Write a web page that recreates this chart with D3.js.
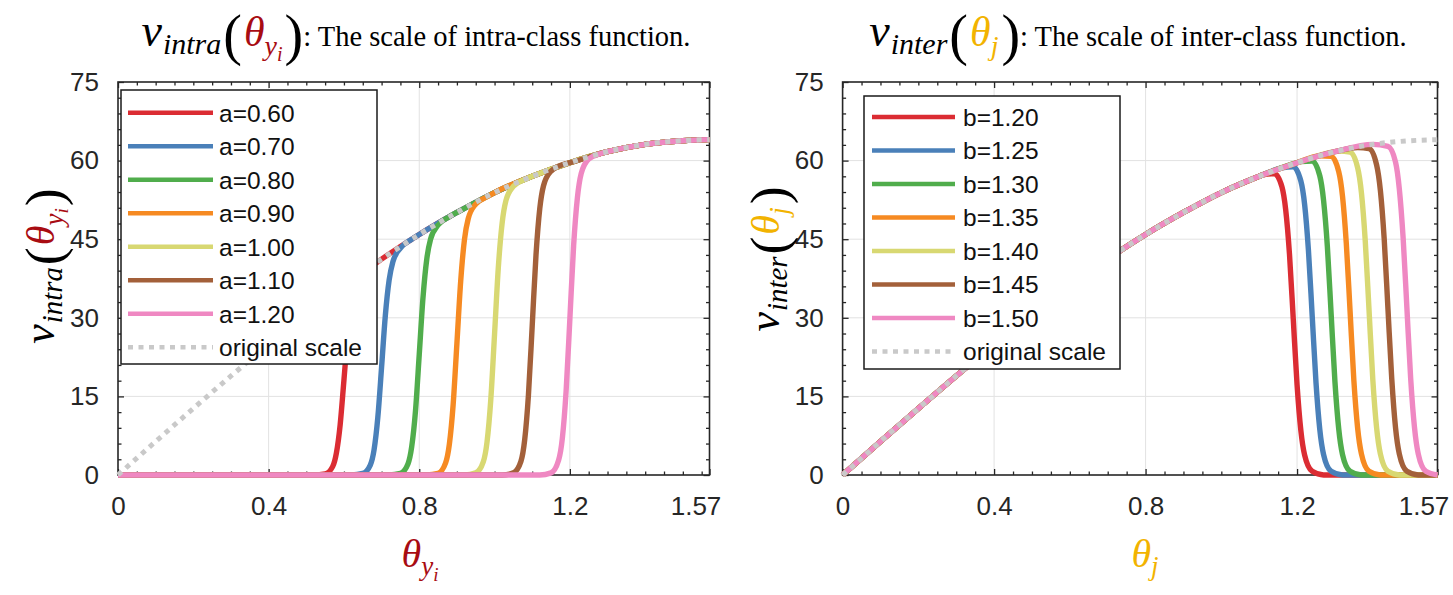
<!DOCTYPE html>
<html><head><meta charset="utf-8">
<script src="https://cdn.jsdelivr.net/npm/d3@7"></script>
<style>body{margin:0;background:#fff}svg{display:block}</style>
</head><body>
<svg id="chart" width="1453" height="595"></svg>
<script>
// ---------------- DATA ----------------
const xTickValues = [0, 0.4, 0.8, 1.2, 1.5708];
const xTickLabels = ["0", "0.4", "0.8", "1.2", "1.57"];
const yTickValues = [0, 15, 30, 45, 60, 75];
const intraLabels = ["a=0.60", "a=0.70", "a=0.80", "a=0.90", "a=1.00", "a=1.10", "a=1.20"];
const interLabels = ["b=1.20", "b=1.25", "b=1.30", "b=1.35", "b=1.40", "b=1.45", "b=1.50"];
const originalLabel = "original scale";

const originalTheta = [0, 0.1, 0.2, 0.3, 0.4, 0.5, 0.6, 0.7, 0.8, 0.9, 1.0, 1.1, 1.2, 1.3, 1.4, 1.5, 1.5708];
const originalScale = [0, 6.4, 12.7, 18.9, 24.9, 30.7, 36.1, 41.2, 45.9, 50.1, 53.9, 57.0, 59.6, 61.7, 63.1, 63.8, 64.0];

// intra-class scale curves [theta, value]
const intraA060 = [[0,0],[0.52,0],[0.55,0.2],[0.57,1.6],[0.58,4.2],[0.59,9.6],[0.60,18.1],[0.61,26.8],[0.62,32.8],[0.63,35.9],[0.65,38.5],[0.68,40.2],[0.7,41.2],[0.8,45.9],[0.9,50.1],[1.0,53.9],[1.1,57.0],[1.2,59.6],[1.3,61.7],[1.4,63.1],[1.5,63.8],[1.5708,64.0]];
const intraA070 = [[0,0],[0.62,0],[0.65,0.3],[0.67,1.9],[0.68,4.8],[0.69,11.0],[0.70,20.6],[0.71,30.5],[0.72,37.2],[0.73,40.7],[0.75,43.3],[0.78,45.0],[0.8,45.9],[0.9,50.1],[1.0,53.9],[1.1,57.0],[1.2,59.6],[1.3,61.7],[1.4,63.1],[1.5,63.8],[1.5708,64.0]];
const intraA080 = [[0,0],[0.72,0],[0.75,0.3],[0.77,2.1],[0.78,5.4],[0.79,12.2],[0.80,23.0],[0.81,33.9],[0.82,41.2],[0.83,45.0],[0.85,47.7],[0.88,49.3],[0.9,50.1],[1.0,53.9],[1.1,57.0],[1.2,59.6],[1.3,61.7],[1.4,63.1],[1.5,63.8],[1.5708,64.0]];
const intraA090 = [[0,0],[0.82,0],[0.85,0.3],[0.87,2.3],[0.88,5.9],[0.89,13.4],[0.90,25.1],[0.91,36.9],[0.92,44.9],[0.93,48.9],[0.95,51.7],[0.98,53.1],[1.0,53.9],[1.1,57.0],[1.2,59.6],[1.3,61.7],[1.4,63.1],[1.5,63.8],[1.5708,64.0]];
const intraA100 = [[0,0],[0.92,0],[0.95,0.4],[0.97,2.5],[0.98,6.3],[0.99,14.4],[1.00,26.9],[1.01,39.6],[1.02,48.0],[1.03,52.3],[1.05,55.1],[1.08,56.4],[1.1,57.0],[1.2,59.6],[1.3,61.7],[1.4,63.1],[1.5,63.8],[1.5708,64.0]];
const intraA110 = [[0,0],[1.02,0],[1.05,0.4],[1.07,2.6],[1.08,6.7],[1.09,15.3],[1.10,28.5],[1.11,41.9],[1.12,50.8],[1.13,55.2],[1.15,58.0],[1.18,59.2],[1.2,59.6],[1.3,61.7],[1.4,63.1],[1.5,63.8],[1.5708,64.0]];
const intraA120 = [[0,0],[1.12,0],[1.15,0.4],[1.17,2.8],[1.18,7.0],[1.19,16.0],[1.20,29.8],[1.21,43.8],[1.22,52.9],[1.23,57.5],[1.25,60.3],[1.28,61.3],[1.3,61.7],[1.4,63.1],[1.5,63.8],[1.5708,64.0]];

// inter-class scale curves [theta, value]
const interB120 = [[0,0],[0.1,6.4],[0.2,12.7],[0.3,18.9],[0.4,24.9],[0.5,30.7],[0.6,36.1],[0.7,41.2],[0.8,45.9],[0.9,50.1],[1.0,53.9],[1.1,57.0],[1.11,57.3],[1.14,57.5],[1.16,55.0],[1.17,50.6],[1.18,42.1],[1.19,29.7],[1.20,17.2],[1.21,8.5],[1.22,3.8],[1.24,0.7],[1.27,0],[1.5708,0]];
const interB125 = [[0,0],[0.1,6.4],[0.2,12.7],[0.3,18.9],[0.4,24.9],[0.5,30.7],[0.6,36.1],[0.7,41.2],[0.8,45.9],[0.9,50.1],[1.0,53.9],[1.1,57.0],[1.16,58.6],[1.19,58.8],[1.21,56.1],[1.22,51.6],[1.23,42.9],[1.24,30.3],[1.25,17.6],[1.26,8.7],[1.27,3.9],[1.29,0.7],[1.32,0],[1.5708,0]];
const interB130 = [[0,0],[0.1,6.4],[0.2,12.7],[0.3,18.9],[0.4,24.9],[0.5,30.7],[0.6,36.1],[0.7,41.2],[0.8,45.9],[0.9,50.1],[1.0,53.9],[1.1,57.0],[1.2,59.6],[1.21,59.8],[1.24,59.9],[1.26,57.1],[1.27,52.4],[1.28,43.6],[1.29,30.7],[1.30,17.8],[1.31,8.8],[1.32,3.9],[1.34,0.7],[1.37,0],[1.5708,0]];
const interB135 = [[0,0],[0.1,6.4],[0.2,12.7],[0.3,18.9],[0.4,24.9],[0.5,30.7],[0.6,36.1],[0.7,41.2],[0.8,45.9],[0.9,50.1],[1.0,53.9],[1.1,57.0],[1.2,59.6],[1.26,60.9],[1.29,60.8],[1.31,57.9],[1.32,53.2],[1.33,44.2],[1.34,31.2],[1.35,18.0],[1.36,8.9],[1.37,4.0],[1.39,0.7],[1.42,0],[1.5708,0]];
const interB140 = [[0,0],[0.1,6.4],[0.2,12.7],[0.3,18.9],[0.4,24.9],[0.5,30.7],[0.6,36.1],[0.7,41.2],[0.8,45.9],[0.9,50.1],[1.0,53.9],[1.1,57.0],[1.2,59.6],[1.3,61.7],[1.31,61.8],[1.34,61.6],[1.36,58.6],[1.37,53.8],[1.38,44.7],[1.39,31.5],[1.40,18.2],[1.41,9.0],[1.42,4.0],[1.44,0.7],[1.47,0],[1.5708,0]];
const interB145 = [[0,0],[0.1,6.4],[0.2,12.7],[0.3,18.9],[0.4,24.9],[0.5,30.7],[0.6,36.1],[0.7,41.2],[0.8,45.9],[0.9,50.1],[1.0,53.9],[1.1,57.0],[1.2,59.6],[1.3,61.7],[1.36,62.5],[1.39,62.3],[1.41,59.2],[1.42,54.3],[1.43,45.1],[1.44,31.7],[1.45,18.4],[1.46,9.0],[1.47,4.0],[1.49,0.7],[1.52,0],[1.5708,0]];
const interB150 = [[0,0],[0.1,6.4],[0.2,12.7],[0.3,18.9],[0.4,24.9],[0.5,30.7],[0.6,36.1],[0.7,41.2],[0.8,45.9],[0.9,50.1],[1.0,53.9],[1.1,57.0],[1.2,59.6],[1.3,61.7],[1.4,63.1],[1.44,62.7],[1.46,59.7],[1.47,54.6],[1.48,45.3],[1.49,31.9],[1.50,18.4],[1.51,9.1],[1.52,4.0],[1.54,0.7],[1.5708,0]];

const intraSeries = [intraA060, intraA070, intraA080, intraA090, intraA100, intraA110, intraA120];
const interSeries = [interB120, interB125, interB130, interB135, interB140, interB145, interB150];

// ---------------- STYLE ----------------
const seriesColors = ["#db2c33", "#4a80b9", "#50ad4c", "#f68a22", "#d8d872", "#a3603a", "#ef88c2"];
const origColor = "#c9c9c9";
const thetaRed = "#a80c12";
const thetaGold = "#f2b300";
const sans = "'Liberation Sans', Arial, sans-serif";
const mathFam = "'Liberation Serif', 'Times New Roman', serif";
const textSerif = "'Liberation Serif', 'Times New Roman', serif";

const svg = d3.select("#chart");
const yTop = 82, yBot = 475;

function mathText(sel, parts) {
  let prev = 0;
  parts.forEach(p => {
    sel.append("tspan")
      .attr("dy", p.base - prev)
      .attr("dx", p.dx || 0)
      .attr("font-size", p.size)
      .attr("font-style", p.it ? "italic" : "normal")
      .attr("font-family", p.fam || mathFam)
      .attr("fill", p.fill || "#000")
      .text(p.t);
    prev = p.base;
  });
}

function drawPanel(cfg) {
  const x = d3.scaleLinear().domain([0, 1.5708]).range([cfg.x0, cfg.x1]);
  const y = d3.scaleLinear().domain([0, 75]).range([yBot, yTop]);
  const g = svg.append("g");

  // grid
  g.append("g").selectAll("line").data(xTickValues.slice(1, -1)).join("line")
    .attr("x1", d => x(d)).attr("x2", d => x(d)).attr("y1", yTop).attr("y2", yBot)
    .attr("stroke", "#e2e2e2").attr("stroke-width", 1);
  g.append("g").selectAll("line").data(yTickValues.slice(1, -1)).join("line")
    .attr("y1", d => y(d)).attr("y2", d => y(d)).attr("x1", cfg.x0).attr("x2", cfg.x1)
    .attr("stroke", "#e2e2e2").attr("stroke-width", 1);

  // axes (ticks inward)
  const minorX = d3.range(0.05, 1.5708, 0.05).filter(v => Math.abs(v / 0.4 - Math.round(v / 0.4)) > 1e-6);
  const minorY = d3.range(3, 75, 3).filter(v => v % 15 !== 0);
  const fmtX = (d, i) => xTickLabels[i];
  const bottom = g.append("g").attr("transform", `translate(0,${yBot})`)
    .call(d3.axisBottom(x).tickValues(xTickValues).tickFormat(fmtX).tickSizeInner(-6).tickSizeOuter(0).tickPadding(22));
  g.append("g").attr("transform", `translate(0,${yBot})`)
    .call(d3.axisBottom(x).tickValues(minorX).tickFormat("").tickSizeInner(-3.5).tickSizeOuter(0));
  g.append("g").attr("transform", `translate(0,${yTop})`)
    .call(d3.axisTop(x).tickValues(xTickValues).tickFormat("").tickSizeInner(-6).tickSizeOuter(0));
  g.append("g").attr("transform", `translate(0,${yTop})`)
    .call(d3.axisTop(x).tickValues(minorX).tickFormat("").tickSizeInner(-3.5).tickSizeOuter(0));
  g.append("g").attr("transform", `translate(${cfg.x0},0)`)
    .call(d3.axisLeft(y).tickValues(yTickValues).tickSizeInner(-6).tickSizeOuter(0).tickPadding(19));
  g.append("g").attr("transform", `translate(${cfg.x0},0)`)
    .call(d3.axisLeft(y).tickValues(minorY).tickFormat("").tickSizeInner(-3.5).tickSizeOuter(0));
  g.append("g").attr("transform", `translate(${cfg.x1},0)`)
    .call(d3.axisRight(y).tickValues(yTickValues).tickFormat("").tickSizeInner(-6).tickSizeOuter(0));
  g.append("g").attr("transform", `translate(${cfg.x1},0)`)
    .call(d3.axisRight(y).tickValues(minorY).tickFormat("").tickSizeInner(-3.5).tickSizeOuter(0));
  g.selectAll(".domain").remove();
  g.selectAll(".tick line").attr("stroke", "#262626").attr("stroke-width", 1.3);
  g.selectAll(".tick text").attr("font-family", sans).attr("font-size", 26).attr("fill", "#262626");
  bottom.selectAll(".tick text").attr("dx", (d, i) => i === xTickValues.length - 1 ? -14 : 0);

  // frame
  g.append("rect").attr("x", cfg.x0).attr("y", yTop).attr("width", cfg.x1 - cfg.x0).attr("height", yBot - yTop)
    .attr("fill", "none").attr("stroke", "#262626").attr("stroke-width", 1.6);

  // series
  const line = d3.line().x(d => x(d[0])).y(d => y(d[1])).curve(d3.curveMonotoneX);
  cfg.series.forEach((s, i) => {
    g.append("path").datum(s).attr("d", line).attr("fill", "none")
      .attr("stroke", seriesColors[i]).attr("stroke-width", 5.4).attr("stroke-linejoin", "round");
  });
  const orig = originalTheta.map((t, i) => [t, originalScale[i]]);
  g.append("path").datum(orig).attr("d", line).attr("fill", "none")
    .attr("stroke", origColor).attr("stroke-width", 5).attr("stroke-dasharray", "5,5.5");

  // legend
  const L = cfg.legend;
  const lg = g.append("g");
  lg.append("rect").attr("x", L.x).attr("y", L.y).attr("width", L.w).attr("height", L.h)
    .attr("fill", "#fff").attr("stroke", "#1a1a1a").attr("stroke-width", 1.5);
  const items = cfg.labels.map((t, i) => ({t, color: seriesColors[i], dash: null}))
    .concat([{t: originalLabel, color: origColor, dash: "5,5.5"}]);
  items.forEach((it, i) => {
    const cy = L.row0 + i * L.step;
    lg.append("line").attr("x1", L.x + L.l1).attr("x2", L.x + L.l2).attr("y1", cy).attr("y2", cy)
      .attr("stroke", it.color).attr("stroke-width", 4.6).attr("stroke-dasharray", it.dash);
    lg.append("text").attr("x", L.x + L.tx).attr("y", cy).attr("dy", "0.36em")
      .attr("font-family", sans).attr("font-size", 24.5).attr("fill", "#111").text(it.t);
  });

  // title
  const title = svg.append("text").attr("x", cfg.titleX).attr("y", 46).attr("text-anchor", "middle");
  mathText(title, cfg.titleParts(1));

  // y label
  const yl = svg.append("text").attr("text-anchor", "middle")
    .attr("transform", `translate(${cfg.ylabX},${cfg.ylabY}) rotate(-90)`);
  mathText(yl, cfg.titleParts(0.96).slice(0, -1));

  // x label
  const xl = svg.append("text").attr("x", cfg.xlabX).attr("y", 567).attr("text-anchor", "middle");
  mathText(xl, cfg.xlabParts);
}

drawPanel({
  x0: 118, x1: 709.5,
  series: intraSeries, labels: intraLabels,
  legend: {x: 121, y: 90, w: 256, h: 274, row0: 112.7, step: 33.5, l1: 7, l2: 92, tx: 98},
  titleX: 416, ylabX: 54, ylabY: 266, xlabX: 420,
  titleParts: k => [
    {t: "v", size: 46 * k, it: true, base: 0},
    {t: "intra", size: 30 * k, it: true, base: 8 * k, dx: 1},
    {t: "(", size: 56 * k, base: 8 * k, dx: 2},
    {t: "θ", size: 42 * k, it: true, fill: thetaRed, base: 0, dx: 2},
    {t: "y", size: 28 * k, it: true, fill: thetaRed, base: 9 * k},
    {t: "i", size: 20 * k, it: true, fill: thetaRed, base: 15 * k},
    {t: ")", size: 56 * k, base: 8 * k, dx: 2},
    {t: ": The scale of intra-class function.", size: 28.5, fam: textSerif, base: 0}
  ],
  xlabParts: [
    {t: "θ", size: 40, it: true, fill: thetaRed, base: 0},
    {t: "y", size: 27, it: true, fill: thetaRed, base: 8},
    {t: "i", size: 19, it: true, fill: thetaRed, base: 14}
  ]
});

drawPanel({
  x0: 842.6, x1: 1437.5,
  series: interSeries, labels: interLabels,
  legend: {x: 864, y: 96, w: 256, h: 273, row0: 117, step: 33.5, l1: 8, l2: 91, tx: 99},
  titleX: 1138, ylabX: 779, ylabY: 259, xlabX: 1145,
  titleParts: k => [
    {t: "v", size: 46 * k, it: true, base: 0},
    {t: "inter", size: 30 * k, it: true, base: 8 * k, dx: 1},
    {t: "(", size: 56 * k, base: 8 * k, dx: 2},
    {t: "θ", size: 42 * k, it: true, fill: thetaGold, base: 0, dx: 2},
    {t: "j", size: 28 * k, it: true, fill: thetaGold, base: 9 * k},
    {t: ")", size: 56 * k, base: 8 * k, dx: 3},
    {t: ": The scale of inter-class function.", size: 28.5, fam: textSerif, base: 0}
  ],
  xlabParts: [
    {t: "θ", size: 40, it: true, fill: thetaGold, base: 0},
    {t: "j", size: 27, it: true, fill: thetaGold, base: 8}
  ]
});
</script>
</body></html>
